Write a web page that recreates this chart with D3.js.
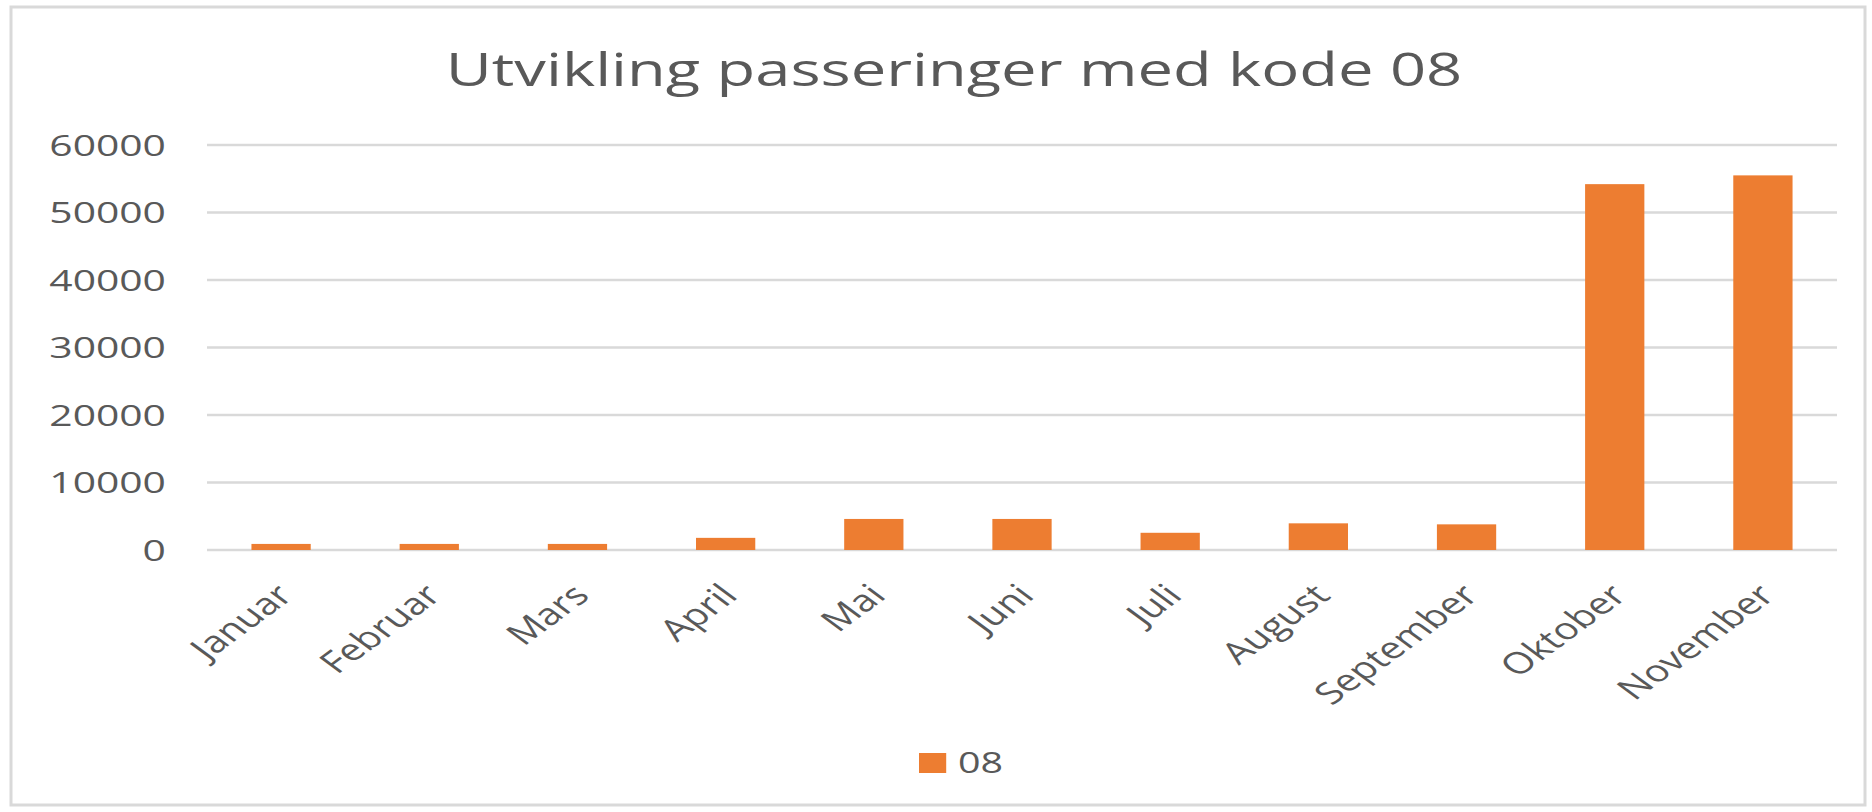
<!DOCTYPE html>
<meta charset="utf-8">
<head>
    <title>Utvikling passeringer med kode 08</title>
</head>
<style>
    body { margin: 0; background: #fff; }
    text { font-family: "Open Sans", sans-serif; fill: #595959; }
</style>
<body>
    <svg id="chart" width="1872" height="812"></svg>

    <script src="https://cdnjs.cloudflare.com/ajax/libs/d3/7.8.5/d3.min.js"></script>
    <script>
        var months = ['Januar', 'Februar', 'Mars', 'April', 'Mai', 'Juni', 'Juli',
            'August', 'September', 'Oktober', 'November']
        var values = [900, 900, 900, 1800, 4600, 4600, 2550, 3950, 3800, 54200, 55500]
        var yTicks = [0, 10000, 20000, 30000, 40000, 50000, 60000]
        var seriesName = '08'
        var title = 'Utvikling passeringer med kode 08'

        var width = 1872, height = 812
        // the picture is stretched sideways, so draw narrow and scale x
        var sx = 1.36
        var w = width / sx

        var svg = d3.select('#chart')

        // chart frame
        svg.append('rect')
            .attr('x', 11).attr('y', 7)
            .attr('width', 1854).attr('height', 798)
            .attr('fill', 'none')
            .attr('stroke', '#d9d9d9')
            .attr('stroke-width', 3)

        var g = svg.append('g').attr('transform', 'scale(' + sx + ',1)')

        var left = 207 / sx, right = 1837 / sx
        var x = d3.scaleBand()
            .domain(months)
            .range([left, right])
            .paddingInner(0.6)
            .paddingOuter(0.3)

        var y = d3.scaleLinear()
            .domain([0, 60000])
            .range([550, 145])

        // gridlines
        g.append('g')
            .selectAll('line')
            .data(yTicks)
            .enter()
            .append('line')
            .attr('x1', left)
            .attr('x2', right)
            .attr('y1', function (d) { return y(d) })
            .attr('y2', function (d) { return y(d) })
            .attr('stroke', '#d9d9d9')
            .attr('stroke-width', 2.5)

        // y labels
        g.append('g')
            .selectAll('text')
            .data(yTicks)
            .enter()
            .append('text')
            .attr('x', 122)
            .attr('y', function (d) { return y(d) })
            .attr('dy', '0.36em')
            .attr('text-anchor', 'end')
            .style('font-size', '30px')
            .text(function (d) { return d })

        // bars
        g.append('g')
            .selectAll('rect')
            .data(values)
            .enter()
            .append('rect')
            .attr('x', function (d, i) { return x(months[i]) })
            .attr('width', x.bandwidth())
            .attr('y', function (d) { return y(d) })
            .attr('height', function (d) { return y(0) - y(d) })
            .attr('fill', '#ed7d31')

        // x labels, rotated
        g.append('g')
            .selectAll('text')
            .data(months)
            .enter()
            .append('text')
            .attr('transform', function (d) {
                return 'translate(' + (x(d) + x.bandwidth() / 2 - 5) + ',582) rotate(-45)'
            })
            .attr('dy', '0.71em')
            .attr('text-anchor', 'end')
            .style('font-size', '30px')
            .text(function (d) { return d })

        // title
        g.append('text')
            .attr('x', 954 / sx)
            .attr('y', 86)
            .attr('text-anchor', 'middle')
            .style('font-size', '46.5px')
            .text(title)

        // legend
        g.append('rect')
            .attr('x', 919 / sx)
            .attr('y', 753)
            .attr('width', 20)
            .attr('height', 20)
            .attr('fill', '#ed7d31')

        g.append('text')
            .attr('x', 958 / sx)
            .attr('y', 773)
            .style('font-size', '29px')
            .text(seriesName)
    </script>
</body>
</html>
